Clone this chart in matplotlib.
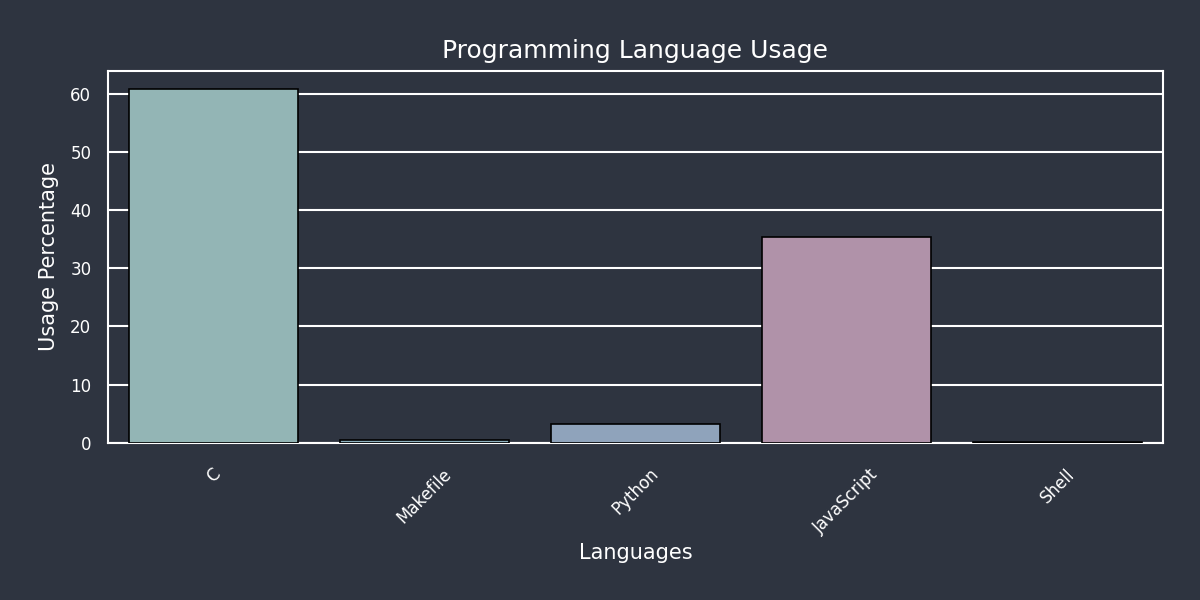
import matplotlib
matplotlib.use("Agg")
import matplotlib.pyplot as plt

languages = ["C", "Makefile", "Python", "JavaScript", "Shell"]
usage = [60.9, 0.4, 3.3, 35.3, 0.15]
colors = ["#93b5b5", "#8cb0be", "#8fa3bb", "#b092a9", "#7f93ad"]

bg = "#2e3440"
fg = "white"

fig, ax = plt.subplots(figsize=(12, 6), dpi=100)
fig.patch.set_facecolor(bg)
ax.set_facecolor(bg)
fig.subplots_adjust(left=0.09, right=0.969, bottom=0.262, top=0.882)

x = range(len(languages))
ax.bar(x, usage, width=0.8, color=colors, edgecolor="black", linewidth=1.2, zorder=3)
ax.set_xticks(list(x))
ax.set_xticklabels(languages, rotation=45)
ax.set_xlim(-0.5, len(languages) - 0.5)
ax.set_ylim(0, max(usage) * 1.05)

ax.yaxis.grid(True, color=fg, linewidth=1.5, zorder=0)
ax.set_axisbelow(True)
for s in ax.spines.values():
    s.set_color(fg)
    s.set_linewidth(1.5)
ax.tick_params(colors=fg, length=0, labelsize=12)
ax.tick_params(axis="y", pad=12)
ax.tick_params(axis="x", pad=16)

ax.set_title("Programming Language Usage", color=fg, fontsize=18, pad=9)
ax.set_xlabel("Languages", color=fg, fontsize=15, labelpad=5)
ax.set_ylabel("Usage Percentage", color=fg, fontsize=15, labelpad=8)

plt.savefig("out.png", facecolor=bg)
